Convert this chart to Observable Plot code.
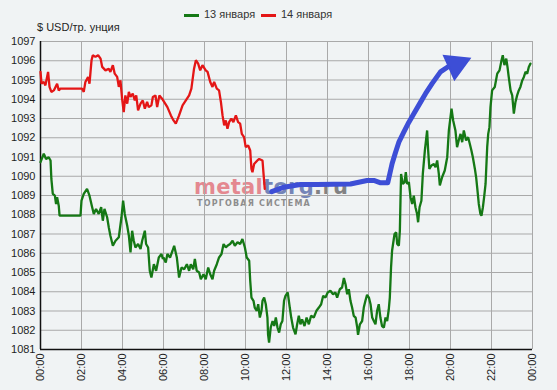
<!DOCTYPE html>
<html><head><meta charset="utf-8">
<script src="https://cdn.jsdelivr.net/npm/d3@7"></script>
<script src="https://cdn.jsdelivr.net/npm/@observablehq/plot@0.6"></script>
<style>
html,body{margin:0;padding:0;background:#f0f3f4;}
#wrap{position:relative;width:557px;height:390px;overflow:hidden;font-family:"Liberation Sans",Arial,sans-serif;color:#222;}
#wrap svg{position:absolute;left:0;top:0;}
.abs{position:absolute;white-space:nowrap;}
.sw{position:absolute;height:3px;width:15px;}
.lg{font-size:11px;line-height:13px;color:#333;}
#wm1{font-family:"DejaVu Sans",sans-serif;font-weight:bold;font-size:21px;line-height:21px;letter-spacing:0.3px;}
#wm2{font-family:"DejaVu Sans",sans-serif;font-weight:bold;font-size:8px;line-height:9px;letter-spacing:1.2px;color:#8d8d8d;}
</style></head><body><div id="wrap"></div>
<script>
const seriesNames = ["13 января", "14 января"];
const yLabel = "$ USD/тр. унция";
const xTicks = [0, 2, 4, 6, 8, 10, 12, 14, 16, 18, 20, 22, 24];
const xTickLabels = ["00:00","02:00","04:00","06:00","08:00","10:00","12:00","14:00","16:00","18:00","20:00","22:00","00:00"];
const yTicks = [1081,1082,1083,1084,1085,1086,1087,1088,1089,1090,1091,1092,1093,1094,1095,1096,1097];

// 13 января: [hour, price]
const jan13 = [[0.0,1090.73],[0.16,1091.17],[0.27,1090.90],[0.40,1090.99],[0.49,1090.82],[0.53,1089.86],[0.60,1089.08],[0.70,1088.99],[0.76,1088.56],[0.81,1088.91],[0.89,1088.47],[0.93,1087.95],[1.95,1087.95],[2.00,1088.73],[2.11,1089.08],[2.27,1089.34],[2.39,1088.99],[2.52,1088.39],[2.60,1088.04],[2.71,1088.30],[2.84,1088.04],[2.96,1088.39],[3.04,1087.69],[3.12,1088.30],[3.25,1087.87],[3.33,1087.35],[3.41,1086.91],[3.53,1086.39],[3.66,1086.65],[3.82,1086.83],[3.95,1087.87],[4.03,1088.73],[4.11,1088.04],[4.23,1087.43],[4.31,1086.91],[4.39,1086.04],[4.47,1087.17],[4.55,1086.65],[4.63,1086.30],[4.76,1086.48],[4.88,1086.22],[4.96,1086.65],[5.09,1087.17],[5.15,1086.48],[5.25,1086.30],[5.33,1085.09],[5.41,1084.74],[5.53,1085.43],[5.64,1085.09],[5.77,1085.78],[5.90,1085.96],[5.97,1085.70],
[6.00,1085.78],[6.11,1085.52],[6.19,1085.96],[6.32,1085.78],[6.44,1086.13],[6.52,1086.39],[6.65,1085.78],[6.76,1084.74],[6.88,1085.26],[7.01,1085.17],[7.14,1085.43],[7.25,1085.09],[7.33,1085.43],[7.45,1085.17],[7.53,1085.70],[7.62,1085.09],[7.74,1085.00],[7.82,1084.65],[7.95,1084.91],[8.06,1084.65],[8.18,1085.26],[8.28,1084.91],[8.39,1084.65],[8.47,1085.09],[8.60,1085.43],[8.71,1085.78],[8.83,1085.96],[8.93,1086.48],[9.04,1086.30],[9.12,1086.39],[9.25,1086.48],[9.37,1086.65],[9.48,1086.39],[9.61,1086.57],[9.74,1086.48],[9.85,1086.74],[9.97,1086.30],[10.06,1085.78],[10.18,1085.61],[10.23,1084.57],[10.29,1083.70],[10.39,1083.53],[10.45,1083.18],[10.55,1083.01],[10.62,1083.35],[10.70,1082.66],[10.78,1083.01],[10.83,1083.53],[10.91,1083.70],[10.99,1083.35],[11.07,1082.66],[11.10,1081.79],[11.15,1081.36],[11.23,1082.14],[11.32,1082.48],[11.40,1082.22],[11.48,1082.66],[11.56,1082.14],[11.64,1081.88],[11.72,1082.31],[11.80,1082.48],[11.88,1083.53],
[11.95,1083.79],[12.06,1083.96],[12.16,1083.18],[12.23,1082.66],[12.32,1082.14],[12.44,1081.79],[12.52,1082.31],[12.60,1082.75],[12.68,1082.31],[12.76,1082.57],[12.88,1082.22],[12.98,1082.66],[13.09,1082.31],[13.20,1082.75],[13.33,1082.66],[13.46,1083.01],[13.58,1083.18],[13.69,1083.35],[13.79,1083.79],[13.90,1083.70],[14.01,1083.96],[14.14,1084.05],[14.27,1083.87],[14.39,1083.96],[14.47,1083.70],[14.60,1084.13],[14.71,1084.22],[14.80,1084.71],[14.88,1084.39],[14.96,1083.87],[15.04,1084.13],[15.12,1083.53],[15.20,1083.18],[15.28,1082.75],[15.37,1082.66],[15.45,1082.14],[15.49,1081.76],[15.58,1082.31],[15.69,1082.48],[15.77,1083.18],[15.85,1083.53],[15.93,1083.84],[16.02,1083.70],[16.10,1083.35],[16.18,1082.66],[16.26,1082.48],[16.34,1082.31],[16.42,1083.01],[16.50,1083.35],[16.58,1082.66],[16.66,1082.22],[16.75,1082.14],[16.83,1082.66],[16.91,1082.48],[16.99,1083.09],[17.04,1083.70],[17.10,1085.26],[17.15,1086.13],[17.27,1087.00],[17.35,1087.09],[17.40,1086.48],[17.48,1086.39],[17.53,1087.17],[17.56,1088.73],[17.59,1090.12],[17.67,1089.60],[17.76,1089.69],[17.82,1090.21],[17.88,1089.60],[17.97,1089.69],
[18.05,1088.91],[18.13,1088.56],[18.21,1088.99],[18.29,1088.39],[18.37,1088.04],[18.42,1087.61],[18.49,1088.39],[18.58,1088.73],[18.65,1090.12],[18.75,1091.34],[18.86,1092.38],[18.91,1091.34],[18.97,1090.38],[19.07,1090.56],[19.19,1090.64],[19.27,1090.47],[19.35,1090.82],[19.43,1090.12],[19.48,1089.52],[19.59,1089.95],[19.72,1090.30],[19.84,1090.99],[19.92,1092.38],[20.05,1093.51],[20.13,1092.90],[20.24,1092.38],[20.32,1091.51],[20.40,1091.86],[20.49,1092.20],[20.57,1091.77],[20.65,1092.38],[20.76,1091.86],[20.86,1092.03],[20.94,1091.69],[21.02,1091.34],[21.09,1090.99],[21.19,1090.38],[21.25,1089.95],[21.30,1089.43],[21.38,1088.56],[21.46,1088.04],[21.51,1087.95],[21.58,1088.39],[21.64,1088.91],[21.71,1089.60],[21.79,1091.51],[21.84,1092.20],[21.90,1092.55],[21.95,1093.59],[22.03,1094.46],[22.16,1094.64],[22.28,1095.33],[22.39,1095.50],[22.49,1096.03],[22.55,1096.29],[22.63,1095.77],[22.72,1096.11],[22.78,1095.68],[22.84,1095.16],[22.93,1094.46],[23.01,1094.20],[23.09,1093.25],[23.17,1093.86],[23.25,1094.20],[23.33,1094.46],[23.41,1094.64],[23.50,1094.98],[23.58,1095.16],[23.66,1095.42],[23.74,1095.33],[23.82,1095.68],[23.90,1095.85]];

// 14 января: [hour, price]
const jan14 = [[0.0,1095.42],[0.05,1094.81],[0.16,1094.90],[0.24,1094.72],[0.37,1095.42],[0.44,1094.64],[0.53,1094.38],[0.65,1094.46],[0.81,1094.81],[0.89,1094.46],[0.97,1094.55],[2.03,1094.55],[2.11,1094.38],[2.19,1094.90],[2.32,1095.16],[2.39,1094.81],[2.49,1096.03],[2.55,1096.29],[2.68,1096.20],[2.81,1096.29],[2.93,1096.11],[3.01,1095.68],[3.17,1095.50],[3.33,1095.59],[3.41,1095.42],[3.53,1095.77],[3.62,1095.33],[3.74,1095.16],[3.82,1094.64],[3.90,1094.98],[3.98,1094.03],[4.06,1093.33],[4.14,1094.20],[4.23,1093.77],[4.31,1094.38],[4.39,1094.12],[4.50,1094.29],[4.60,1093.94],[4.67,1094.20],[4.76,1093.42],[4.88,1093.77],[4.99,1093.94],[5.09,1093.51],[5.20,1093.86],[5.28,1093.59],[5.41,1093.68],[5.48,1094.12],[5.61,1094.20],[5.69,1093.59],[5.80,1094.20],[5.93,1094.03],
[6.03,1093.86],[6.19,1093.59],[6.36,1093.16],[6.49,1092.90],[6.60,1092.73],[6.76,1093.16],[6.93,1093.68],[7.09,1093.94],[7.25,1094.20],[7.36,1094.55],[7.49,1095.59],[7.58,1096.03],[7.69,1095.85],[7.79,1095.50],[7.90,1095.77],[8.06,1095.50],[8.15,1095.42],[8.28,1094.90],[8.39,1094.64],[8.47,1094.90],[8.60,1094.55],[8.71,1094.46],[8.80,1093.86],[8.88,1093.16],[8.96,1092.64],[9.04,1092.90],[9.12,1092.47],[9.20,1092.81],[9.31,1092.99],[9.41,1092.81],[9.53,1093.16],[9.64,1092.81],[9.74,1092.73],[9.82,1092.20],[9.93,1092.03],[10.01,1091.51],[10.13,1091.60],[10.23,1091.34],[10.29,1090.38],[10.34,1090.21],[10.42,1090.64],[10.58,1090.82],[10.67,1090.90],[10.83,1090.82],[10.88,1090.12],[10.94,1089.34]];

// hand-drawn forecast arrow: [hour, price]
const arrowPath = [[11.28,1089.2],[11.87,1089.43],[12.68,1089.57],[13.49,1089.57],[15.12,1089.6],[15.93,1089.78],[16.26,1089.78],[16.59,1089.66],[16.94,1089.66],[17.04,1090.13],[17.15,1090.65],[17.32,1091.25],[17.48,1091.77],[17.72,1092.29],[17.97,1092.81],[18.21,1093.25],[18.54,1093.85],[18.78,1094.29],[19.1,1094.81],[19.51,1095.42],[19.9,1095.7]];
const arrowTip = [[20.27,1095.8]];

const seriesColors = ["#157815", "#e41616"];
const arrowColor = "#3d4ed6";

const d13 = jan13.map(([h, v]) => ({h, v}));
const d14 = jan14.map(([h, v]) => ({h, v}));
const dArrow = arrowPath.map(([h, v]) => ({h, v}));
const dTip = arrowTip.map(([h, v]) => ({h, v}));

const chart = Plot.plot({
  width: 557, height: 390,
  marginLeft: 40, marginRight: 25, marginTop: 41, marginBottom: 41,
  style: {background: "transparent", fontFamily: "'Liberation Sans', Arial, sans-serif", fontSize: "11px", color: "#1e1e1e", overflow: "visible"},
  x: {domain: [0, 24]},
  y: {domain: [1081, 1097]},
  marks: [
    Plot.gridX(xTicks, {stroke: "#a9a9a9", strokeOpacity: 1, strokeWidth: 1}),
    Plot.gridY(yTicks, {stroke: "#a9a9a9", strokeOpacity: 1, strokeWidth: 1}),
    Plot.axisX(xTicks, {tickFormat: d => xTickLabels[xTicks.indexOf(d)], tickRotate: -90, tickSize: 0, tickPadding: 4, label: null, fontSize: 11}),
    Plot.axisY(yTicks, {tickFormat: d => String(d), tickSize: 0, tickPadding: 5, label: null, fontSize: 11}),
    Plot.ruleX([0], {stroke: "#111", strokeWidth: 1.5}),
    Plot.ruleY([1081], {stroke: "#111", strokeWidth: 1.5}),
    Plot.line(d13, {x: "h", y: "v", stroke: seriesColors[0], strokeWidth: 2.3, strokeLinejoin: "miter"}),
    Plot.line(d14, {x: "h", y: "v", stroke: seriesColors[1], strokeWidth: 2.3, strokeLinejoin: "miter"}),
    Plot.line(dArrow, {x: "h", y: "v", stroke: arrowColor, strokeWidth: 5, strokeLinecap: "round", strokeLinejoin: "round"}),
    Plot.dot(dTip, {x: "h", y: "v", symbol: "triangle", r: 9.5, rotate: 66, fill: arrowColor, stroke: arrowColor, strokeWidth: 2})
  ]
});

const wrap = document.getElementById("wrap");
// watermark (under the chart)
const wm1 = document.createElement("div");
wm1.id = "wm1"; wm1.className = "abs";
wm1.style.left = "194px"; wm1.style.top = "177px";
wm1.innerHTML = '<span style="color:#e4838b">metal</span><span style="color:#6f80b4">torg</span><span style="color:#7d7d7d">.ru</span>';
wm1.style.opacity = "0.95";
wrap.appendChild(wm1);
const wm2 = document.createElement("div");
wm2.id = "wm2"; wm2.className = "abs";
wm2.style.left = "197px"; wm2.style.top = "199px";
wm2.textContent = "ТОРГОВАЯ СИСТЕМА";
wrap.appendChild(wm2);

wrap.appendChild(chart);

// y unit label
const yl = document.createElement("div");
yl.className = "abs"; yl.style.left = "37px"; yl.style.top = "21px";
yl.style.fontSize = "11px"; yl.style.lineHeight = "13px"; yl.style.color = "#1e1e1e";
yl.textContent = yLabel;
wrap.appendChild(yl);

// legend
const legendX = [184, 261];
seriesNames.forEach((name, i) => {
  const sw = document.createElement("div");
  sw.className = "sw"; sw.style.left = legendX[i] + "px"; sw.style.top = "14px"; sw.style.background = seriesColors[i];
  wrap.appendChild(sw);
  const t = document.createElement("div");
  t.className = "abs lg"; t.style.left = (legendX[i] + 20) + "px"; t.style.top = "8px";
  t.textContent = name;
  wrap.appendChild(t);
});
</script>
</body></html>
